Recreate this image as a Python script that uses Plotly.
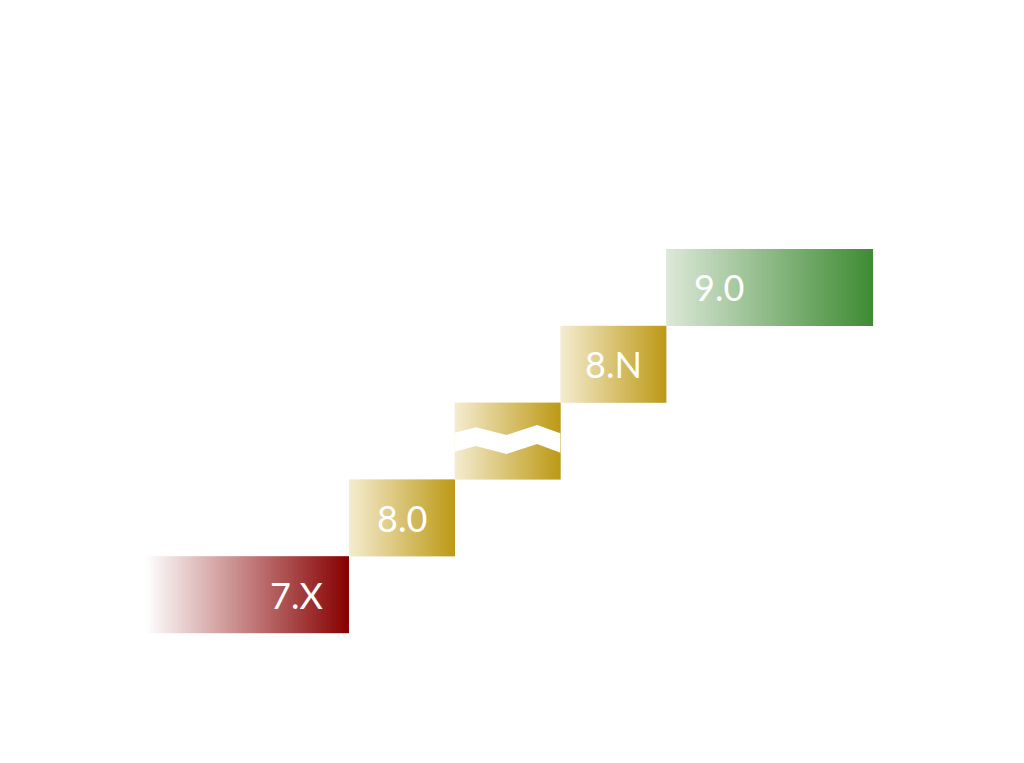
import numpy as np
import plotly.graph_objects as go

# ---- data ----
labels = ["7.X", "8.0", "", "8.N", "9.0"]          # step labels ("" = break step)
starts = [-1.93, 0.0, 1.0, 2.0, 3.0]              # step start (timeline units)
ends = [0.0, 1.0, 2.0, 3.0, 4.96]                 # step end
levels = [0, 1, 2, 3, 4]                           # stair level
label_x = [-0.5, 0.5, 1.5, 2.5, 3.5]               # label centre
left_colors = ["#FFFFFF", "#F4ECCF", "#F4ECCF", "#F4ECCF", "#DCE8D8"]
right_colors = ["#870000", "#BD9915", "#BD9915", "#BD9915", "#3E8B33"]
break_index = 2
zig_fx = [0.0, 0.2, 0.49, 0.78, 1.0]
zig_top = [0.608, 0.678, 0.578, 0.708, 0.60]
zig_bot = [0.361, 0.435, 0.331, 0.461, 0.348]

fig = go.Figure()
ncol = 160
for i in range(len(labels)):
    xe = np.linspace(starts[i], ends[i], ncol + 1)
    z = [list(np.linspace(0, 1, ncol))]
    fig.add_trace(go.Heatmap(
        x=xe, y=[levels[i], levels[i] + 1], z=z,
        colorscale=[[0, left_colors[i]], [1, right_colors[i]]],
        zmin=0, zmax=1, showscale=False, hoverinfo="skip",
    ))

# white zigzag break band
b = break_index
w = ends[b] - starts[b]
px = [starts[b] + f * w for f in zig_fx]
poly_x = px + px[::-1] + [px[0]]
poly_y = [levels[b] + t for t in zig_top] + [levels[b] + t for t in zig_bot][::-1] + [levels[b] + zig_top[0]]
fig.add_trace(go.Scatter(x=poly_x, y=poly_y, fill="toself", fillcolor="white",
                         mode="lines", line=dict(color="white", width=0),
                         hoverinfo="skip", showlegend=False))

for i, lab in enumerate(labels):
    if lab:
        fig.add_annotation(x=label_x[i], y=levels[i] + 0.5, text=lab, showarrow=False,
                           font=dict(family="Comic Sans MS, Lato, sans-serif", size=36, color="white"))

fig.update_xaxes(range=[-3.226, 6.462], visible=False, fixedrange=True)
fig.update_yaxes(range=[-1.797, 8.138], visible=False, fixedrange=True)
fig.update_layout(width=1024, height=763, margin=dict(l=0, r=0, t=0, b=0),
                  plot_bgcolor="white", paper_bgcolor="white", showlegend=False)
fig.write_html("out.html")
